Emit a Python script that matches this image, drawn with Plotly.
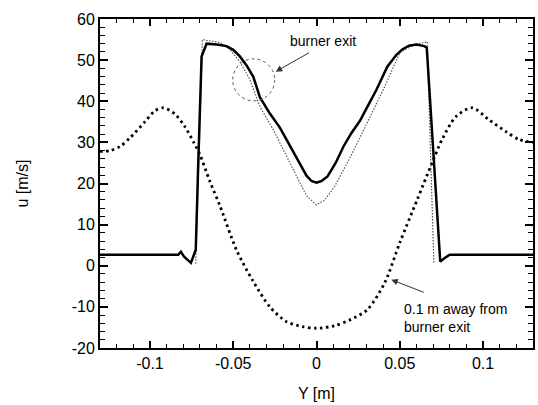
import plotly.graph_objects as go

# Solid: burner exit (computed)
exit_x = [-0.13, -0.083, -0.0814, -0.0795, -0.0754, -0.0725, -0.071, -0.069, -0.066, -0.060,
          -0.054, -0.050, -0.046, -0.042, -0.038, -0.034, -0.028, -0.022, -0.016, -0.010,
          -0.006, -0.003, 0.0, 0.003, 0.0066, 0.0115, 0.0162, 0.021, 0.026, 0.031,
          0.036, 0.0425, 0.048, 0.0515, 0.0555, 0.060, 0.0647, 0.0662, 0.0705, 0.0743,
          0.077, 0.080, 0.13]
exit_u = [2.7, 2.7, 3.4, 2.2, 0.7, 3.9, 25.0, 50.9, 54.0, 53.8,
          53.4, 52.5, 50.9, 48.7, 46.0, 41.0, 37.0, 33.6, 29.2, 25.0,
          21.9, 20.6, 20.2, 20.6, 21.7, 25.0, 29.0, 32.3, 35.2, 39.0,
          42.8, 48.4, 51.3, 52.6, 53.5, 53.8, 53.4, 53.0, 25.8, 1.0,
          1.9, 2.7, 2.7]

# Thin dotted: burner exit (inlet profile)
inlet_x = [-0.0725, -0.0705, -0.0685, -0.066, -0.058, -0.052, -0.046, -0.040, -0.034, -0.026,
           -0.018, -0.012, -0.006, 0.0, 0.005, 0.0108, 0.0204, 0.0305, 0.041, 0.050,
           0.0587, 0.065, 0.0665, 0.0685, 0.0705]
inlet_u = [0.5, 28.0, 55.0, 54.8, 54.3, 52.6, 49.6, 45.3, 38.7, 33.1,
           26.5, 21.7, 17.0, 14.8, 16.0, 19.2, 26.5, 34.8, 43.6, 51.8,
           53.8, 54.3, 54.5, 27.0, 0.5]

# Coarse dotted: 0.1 m away from burner exit
far_x = [-0.13, -0.124, -0.118, -0.112, -0.103, -0.097, -0.092, -0.085, -0.079, -0.0737,
         -0.070, -0.064, -0.058, -0.048, -0.0383, -0.028, -0.018, -0.0084, 0.0, 0.0108,
         0.0204, 0.0305, 0.041, 0.050, 0.0605, 0.0695, 0.0754, 0.0838, 0.0934, 0.1036,
         0.1138, 0.1216, 0.13]
far_u = [27.8, 28.0, 29.0, 31.1, 35.0, 37.7, 38.4, 36.9, 33.8, 30.0,
         27.0, 20.5, 14.6, 3.8, -3.6, -10.0, -13.6, -14.8, -15.2, -14.6,
         -13.1, -10.7, -4.1, 5.6, 16.1, 25.1, 30.7, 36.3, 38.4, 35.5,
         32.6, 30.7, 30.0]

x_range = [-0.13, 0.13]
y_range = [-20, 60]
x_tickvals = [-0.1, -0.05, 0, 0.05, 0.1]
x_ticktext = ["-0.1", "-0.05", "0", "0.05", "0.1"]
y_tickvals = [-20, -10, 0, 10, 20, 30, 40, 50, 60]
y_ticktext = ["-20", "-10", "0", "10", "20", "30", "40", "50", "60"]

fig = go.Figure()
fig.add_trace(go.Scatter(x=far_x, y=far_u, mode="lines", hoverinfo="skip",
                         line=dict(color="black", width=2.8, dash="2.5px,3.5px", shape="spline", smoothing=0.8)))
fig.add_trace(go.Scatter(x=inlet_x, y=inlet_u, mode="lines", hoverinfo="skip",
                         line=dict(color="#555555", width=1.2, dash="1.5px,1.5px")))
fig.add_trace(go.Scatter(x=exit_x, y=exit_u, mode="lines", hoverinfo="skip",
                         line=dict(color="black", width=2.5)))

font = dict(family="Liberation Sans, Arial, sans-serif", size=16, color="black")

fig.update_layout(
    width=538, height=405,
    margin=dict(l=100, r=3, t=19, b=57),
    paper_bgcolor="white", plot_bgcolor="white",
    showlegend=False,
    font=font,
    xaxis=dict(range=x_range, tickmode="array", tickvals=x_tickvals, ticktext=x_ticktext,
               ticks="inside", ticklen=7, tickwidth=1.5, tickcolor="#000000",
               minor=dict(tickmode="linear", dtick=0.01, tick0=0, ticks="inside", ticklen=4,
                          tickwidth=1.2, tickcolor="#000000"),
               showline=True, linewidth=2, linecolor="#000000", mirror="allticks",
               showgrid=False, zeroline=False),
    yaxis=dict(range=y_range, tickmode="array", tickvals=y_tickvals, ticktext=y_ticktext,
               ticks="inside", ticklen=8, tickwidth=1.5, tickcolor="#000000",
               minor=dict(tickmode="linear", dtick=2, tick0=0, ticks="inside", ticklen=5,
                          tickwidth=1.2, tickcolor="#000000"),
               showline=True, linewidth=2, linecolor="#000000", mirror="allticks",
               showgrid=False, zeroline=False),
)

fig.add_annotation(text="u [m/s]", xref="paper", yref="paper", x=0, y=0.5,
                   xanchor="center", yanchor="middle", xshift=-78, textangle=-90,
                   showarrow=False, font=font)
fig.add_annotation(text="Y [m]", xref="paper", yref="paper", x=0.5, y=0,
                   xanchor="center", yanchor="middle", yshift=-45,
                   showarrow=False, font=font)

# circle around burner exit curves
cx, cy, rx, ry = -0.0377, 45.2, 0.0126, 5.1
fig.add_shape(type="circle", xref="x", yref="y", x0=cx - rx, x1=cx + rx, y0=cy - ry, y1=cy + ry,
              line=dict(color="#555555", width=1, dash="dot"))

afont = dict(family="Liberation Sans, Arial, sans-serif", size=14, color="black")
fig.add_annotation(text="burner exit", x=0.0036, y=54.6, xref="x", yref="y",
                   showarrow=False, font=afont, xanchor="center", yanchor="middle")
fig.add_annotation(text="", x=-0.0245, y=47.2, ax=-0.0036, ay=52.0, xref="x", yref="y",
                   axref="x", ayref="y", showarrow=True, arrowhead=2, arrowsize=1.3,
                   arrowwidth=1, arrowcolor="#333333")
fig.add_annotation(text="0.1 m away from<br>burner exit", x=0.0515, y=-12.65, xref="x", yref="y",
                   showarrow=False, font=afont, xanchor="left", yanchor="middle", align="left")
fig.add_annotation(text="", x=0.0449, y=-3.4, ax=0.0653, ay=-6.6, xref="x", yref="y",
                   axref="x", ayref="y", showarrow=True, arrowhead=2, arrowsize=1.3,
                   arrowwidth=1, arrowcolor="#333333")

fig.write_html("out.html", config={"displayModeBar": False},
               post_script="document.body.style.margin='0px';")
